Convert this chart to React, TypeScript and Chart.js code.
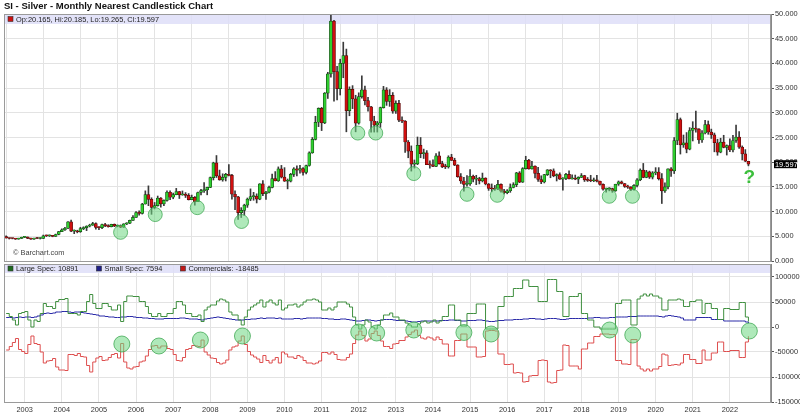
import React, { useEffect, useRef } from 'react';
import { Chart, registerables } from 'chart.js';

Chart.register(...registerables);

const FONT = '"Liberation Sans", Arial, Helvetica, sans-serif';

// Month index relative to Jan 2003 (0). First candle = Jul 2002.
const START_MONTH = -6;
const X_MIN = -6.7;
const X_MAX = 241.3;
const YEAR_LABELS = [2003, 2004, 2005, 2006, 2007, 2008, 2009, 2010, 2011, 2012, 2013, 2014, 2015, 2016, 2017, 2018, 2019, 2020, 2021, 2022];

const OPEN = [
  4.93, 4.66, 4.56, 4.55, 4.44, 4.56,
  4.79, 4.84, 4.58, 4.44, 4.57, 4.55, 4.57, 5.11, 5.10, 5.15, 5.00, 5.37,
  5.96, 6.30, 6.63, 7.92, 6.04, 6.10, 5.93, 6.55, 6.75, 7.05, 7.25, 7.55,
  6.82, 6.75, 7.39, 7.15, 6.95, 7.40, 7.05, 7.15, 6.83, 7.50, 7.65, 8.23,
  8.83, 9.82, 9.63, 11.53, 13.46, 12.47, 10.84, 11.20, 12.74, 11.55, 12.26, 13.92,
  12.90, 13.43, 14.07, 13.38, 13.41, 13.30, 12.43, 12.89, 12.02, 13.87, 14.24, 14.41,
  14.91, 16.87, 19.87, 17.22, 16.40, 16.93, 17.52, 17.32, 13.52, 12.97, 9.78, 10.24,
  11.30, 12.52, 13.03, 13.13, 12.52, 15.61, 13.62, 13.95, 14.90, 16.66, 16.24, 18.67,
  16.99, 16.14, 16.17, 17.54, 18.64, 18.38, 18.70, 17.95, 19.33, 21.91, 24.63, 28.08,
  30.91, 27.95, 33.99, 37.87, 48.58, 38.33, 34.87, 40.00, 41.59, 30.45, 34.76, 32.83,
  27.91, 33.28, 34.63, 32.48, 31.22, 28.34, 27.51, 27.97, 31.06, 34.65, 32.30, 33.53,
  30.35, 31.93, 28.50, 28.33, 24.09, 22.25, 19.60, 19.66, 23.42, 21.72, 21.89, 19.52,
  19.47, 19.15, 21.29, 19.72, 19.05, 19.04, 21.03, 20.37, 19.42, 17.07, 16.20, 15.50,
  15.63, 17.16, 16.57, 16.66, 16.21, 16.78, 15.58, 14.67, 14.62, 14.52, 15.52, 14.14,
  13.82, 14.22, 14.87, 15.45, 17.85, 15.98, 18.70, 20.40, 18.66, 19.20, 17.74, 16.49,
  15.99, 17.47, 18.46, 18.23, 17.23, 17.47, 16.56, 16.70, 17.54, 16.63, 16.71, 16.55,
  16.93, 17.30, 16.43, 16.32, 16.25, 16.43, 16.15, 15.50, 14.55, 14.62, 14.65, 14.20,
  15.54, 16.04, 15.68, 15.10, 14.94, 14.50, 15.32, 16.43, 18.38, 16.93, 18.05, 16.98,
  17.85, 18.02, 16.69, 14.19, 15.01, 18.64, 18.24, 24.39, 28.64, 23.52, 23.91, 22.63,
  26.41, 26.91, 26.69, 24.49, 25.91, 27.63, 26.11, 25.54, 23.94, 22.03, 24.07, 23.01,
  23.35, 22.47, 24.40, 25.10, 23.03, 21.69, 20.165,
];
const HIGH = [
  5.08, 4.70, 4.66, 4.56, 4.62, 4.83,
  4.98, 4.88, 4.65, 4.66, 4.78, 4.72, 5.25, 5.26, 5.27, 5.20, 5.45, 5.99,
  6.53, 6.83, 7.98, 8.29, 6.30, 6.23, 6.83, 6.93, 7.13, 7.45, 7.83, 7.75,
  6.90, 7.45, 7.65, 7.35, 7.45, 7.50, 7.30, 7.30, 7.55, 7.75, 8.30, 9.20,
  10.00, 10.18, 11.67, 14.20, 15.21, 12.80, 11.85, 13.15, 12.85, 12.40, 14.18, 14.18,
  13.75, 14.70, 14.10, 14.18, 13.85, 13.65, 13.35, 13.05, 13.95, 14.50, 15.85, 14.95,
  17.00, 20.00, 21.35, 18.40, 17.65, 17.75, 19.50, 17.55, 14.20, 13.10, 10.80, 11.50,
  12.75, 14.60, 13.90, 13.60, 15.65, 16.30, 14.10, 15.15, 17.60, 18.10, 19.05, 19.35,
  18.90, 16.60, 17.75, 18.90, 19.25, 19.35, 18.90, 19.40, 22.10, 25.00, 29.30, 31.00,
  31.10, 34.10, 38.20, 49.82, 48.70, 39.40, 40.85, 44.30, 42.90, 35.25, 35.50, 33.55,
  34.05, 37.50, 35.40, 33.15, 31.30, 29.30, 28.25, 31.15, 35.35, 35.10, 34.70, 34.10,
  32.40, 32.50, 29.20, 28.40, 24.40, 23.30, 20.45, 25.10, 25.00, 22.65, 22.35, 20.30,
  20.50, 21.75, 22.10, 20.20, 19.60, 21.30, 21.60, 20.80, 19.50, 17.70, 16.95, 17.30,
  18.50, 17.40, 17.35, 16.95, 17.80, 16.85, 15.70, 15.60, 15.30, 16.35, 15.60, 14.50,
  14.45, 15.60, 15.85, 17.95, 18.10, 18.90, 21.20, 20.60, 20.20, 19.25, 18.95, 17.25,
  17.55, 18.50, 18.50, 18.65, 17.65, 17.85, 16.90, 17.75, 18.25, 17.45, 17.40, 17.05,
  17.70, 17.35, 16.90, 17.35, 16.80, 17.35, 16.20, 15.60, 14.75, 14.85, 14.75, 15.55,
  16.20, 16.20, 15.70, 15.35, 15.05, 15.45, 16.70, 18.65, 19.75, 18.35, 18.20, 18.10,
  18.90, 18.90, 17.70, 15.80, 18.65, 18.90, 25.00, 29.91, 28.95, 25.50, 26.00, 27.00,
  28.20, 30.35, 26.80, 26.40, 28.50, 28.35, 26.70, 25.90, 24.65, 24.85, 25.45, 23.50,
  24.75, 25.45, 27.50, 26.20, 23.30, 22.55, 20.185,
];
const LOW = [
  4.60, 4.45, 4.48, 4.36, 4.40, 4.53,
  4.72, 4.53, 4.37, 4.38, 4.50, 4.45, 4.55, 4.95, 4.96, 4.90, 4.98, 5.30,
  5.93, 6.18, 6.55, 5.95, 5.53, 5.70, 5.80, 6.35, 6.15, 6.90, 7.20, 6.45,
  6.35, 6.55, 6.95, 6.85, 6.90, 6.95, 6.92, 6.75, 6.80, 7.35, 7.55, 8.20,
  8.80, 9.30, 9.50, 11.50, 11.20, 9.45, 10.55, 11.10, 10.90, 11.20, 12.10, 12.40,
  12.60, 13.40, 12.65, 13.30, 12.85, 12.35, 12.40, 11.30, 12.00, 13.40, 13.90, 13.40,
  14.85, 16.40, 16.90, 16.35, 16.15, 16.20, 17.20, 12.50, 10.40, 8.40, 8.80, 9.25,
  10.85, 12.20, 12.30, 11.75, 12.40, 13.25, 12.45, 13.80, 14.80, 16.20, 16.10, 16.80,
  16.10, 14.60, 16.00, 17.10, 17.20, 17.80, 17.35, 17.65, 19.20, 21.80, 24.50, 27.20,
  26.40, 27.80, 32.90, 37.20, 32.33, 32.60, 33.60, 37.10, 26.15, 29.40, 30.85, 26.15,
  27.70, 32.95, 31.60, 30.35, 26.10, 26.10, 26.10, 27.05, 30.95, 31.50, 31.30, 29.90,
  29.85, 28.20, 28.00, 22.00, 20.90, 18.20, 18.80, 19.50, 20.90, 20.75, 19.50, 18.80,
  19.10, 19.10, 19.60, 18.90, 18.70, 18.80, 20.35, 19.30, 16.95, 15.70, 14.15, 15.15,
  15.30, 16.00, 15.45, 15.60, 16.00, 15.40, 14.30, 14.00, 14.30, 14.45, 13.95, 13.60,
  13.60, 13.90, 14.80, 15.05, 15.85, 15.90, 18.60, 18.60, 18.60, 16.80, 16.10, 15.65,
  15.80, 17.30, 16.85, 17.05, 16.20, 16.50, 14.35, 16.45, 16.60, 16.55, 16.45, 15.65,
  16.90, 16.10, 16.10, 16.05, 16.05, 16.00, 15.35, 14.35, 13.95, 14.20, 13.90, 14.10,
  15.30, 15.60, 14.90, 14.70, 14.25, 14.35, 15.00, 16.25, 16.85, 16.85, 16.70, 16.60,
  17.45, 16.40, 11.64, 13.90, 14.60, 17.10, 17.70, 23.55, 21.65, 23.00, 21.90, 22.50,
  24.30, 26.10, 23.80, 24.00, 25.70, 25.65, 24.80, 22.10, 21.40, 21.90, 22.90, 21.45,
  22.15, 22.10, 24.00, 22.80, 20.45, 20.10, 19.265,
];
const CLOSE = [
  4.66, 4.56, 4.55, 4.44, 4.56, 4.79,
  4.84, 4.58, 4.44, 4.57, 4.55, 4.57, 5.11, 5.10, 5.15, 5.00, 5.37, 5.96,
  6.30, 6.63, 7.92, 6.04, 6.10, 5.93, 6.55, 6.75, 7.05, 7.25, 7.55, 6.82,
  6.75, 7.39, 7.15, 6.95, 7.40, 7.05, 7.15, 6.83, 7.50, 7.65, 8.23, 8.83,
  9.82, 9.63, 11.53, 13.46, 12.47, 10.84, 11.20, 12.74, 11.55, 12.26, 13.92, 12.90,
  13.43, 14.07, 13.38, 13.41, 13.30, 12.43, 12.89, 12.02, 13.87, 14.24, 14.41, 14.91,
  16.87, 19.87, 17.22, 16.40, 16.93, 17.52, 17.32, 13.52, 12.97, 9.78, 10.24, 11.30,
  12.52, 13.03, 13.13, 12.52, 15.61, 13.62, 13.95, 14.90, 16.66, 16.24, 18.67, 16.99,
  16.14, 16.17, 17.54, 18.64, 18.38, 18.70, 17.95, 19.33, 21.91, 24.63, 28.08, 30.91,
  27.95, 33.99, 37.87, 48.58, 38.33, 34.87, 40.00, 41.59, 30.45, 34.76, 32.83, 27.91,
  33.28, 34.63, 32.48, 31.22, 28.34, 27.51, 27.97, 31.06, 34.65, 32.30, 33.53, 30.35,
  31.93, 28.50, 28.33, 24.09, 22.25, 19.60, 19.66, 23.42, 21.72, 21.89, 19.52, 19.47,
  19.15, 21.29, 19.72, 19.05, 19.04, 21.03, 20.37, 19.42, 17.07, 16.20, 15.50, 15.63,
  17.16, 16.57, 16.66, 16.21, 16.78, 15.58, 14.67, 14.62, 14.52, 15.52, 14.14, 13.82,
  14.22, 14.87, 15.45, 17.85, 15.98, 18.70, 20.40, 18.66, 19.20, 17.74, 16.49, 15.99,
  17.47, 18.46, 18.23, 17.23, 17.47, 16.56, 16.70, 17.54, 16.63, 16.71, 16.55, 16.93,
  17.30, 16.43, 16.32, 16.25, 16.43, 16.15, 15.50, 14.55, 14.62, 14.65, 14.20, 15.54,
  16.04, 15.68, 15.10, 14.94, 14.50, 15.32, 16.43, 18.38, 16.93, 18.05, 16.98, 17.85,
  18.02, 16.69, 14.19, 15.01, 18.64, 18.24, 24.39, 28.64, 23.52, 23.91, 22.63, 26.41,
  26.91, 26.69, 24.49, 25.91, 27.63, 26.11, 25.54, 23.94, 22.03, 24.07, 23.01, 23.35,
  22.47, 24.40, 25.10, 23.03, 21.69, 20.20, 19.597,
];

// COT net positions, thousands of contracts
const LARGE_SPEC = [
  27, 21, 14, 4, 27, 29,
  31, 14, 0, 14, 11, 27, 47, 41, 41, 37, 51, 55,
  55, 57, 27, 27, 27, 24, 31, 31, 51, 65, 47, 37,
  37, 47, 47, 41, 34, 34, 44, 11, 51, 62, 62, 61,
  61, 51, 51, 41, 27, 21, 21, 27, 21, 21, 27, 27,
  37, 51, 51, 44, 27, 27, 21, 21, 24, 11, 34, 40,
  44, 44, 52, 56, 54, 50, 30, 24, 24, 14, 4, 20,
  34, 40, 44, 48, 54, 40, 50, 54, 48, 44, 54, 34,
  38, 44, 44, 46, 40, 44, 50, 54, 54, 56, 54, 50,
  34, 34, 38, 34, 40, 50, 50, 50, 46, 40, 20, 4,
  -4, 4, 14, 10, 0, -4, 4, 14, 24, 24, 28, 20,
  20, 14, 14, 8, 4, 0, 0, 6, 10, 12, 8, 10,
  14, 8, 12, 21, 21, 44, 44, 14, 14, 2, 2, 27,
  27, 27, 46, 46, 46, -4, -4, -4, -4, 41, 41, 61,
  61, 61, 77, 77, 77, 94, 94, 81, 81, 81, 51, 51,
  51, 95, 95, 95, 71, 71, 21, 21, 61, 61, 61, 67,
  27, 27, 14, 14, 0, 0, -4, -4, -4, -4, -4, 47,
  47, 54, 54, 54, 4, 4, 56, 62, 66, 62, 66, 62,
  62, 58, 34, 34, 54, 54, 54, 56, 54, 41, 41, 51,
  51, 54, 54, 27, 47, 47, 37, 37, 15, 15, 37, 37,
  35, 35, 35, 49, 49, 20, 10.891,
];
const SMALL_SPEC = [
  19, 19, 18, 19, 20, 19,
  20, 20, 19, 20, 22, 24, 27, 28, 27, 28, 30, 30,
  31, 31, 30, 29, 30, 30, 29, 28, 27, 26, 25, 24,
  22, 22, 21, 20, 20, 19, 19, 20, 20, 21, 21, 20,
  19, 19, 18, 18, 17, 17, 16, 16, 16, 17, 17, 17,
  17, 17, 18, 18, 17, 16, 16, 16, 15, 14, 16, 17,
  18, 19, 20, 19, 18, 17, 16, 15, 14, 14, 14, 15,
  15, 16, 16, 17, 18, 17, 18, 18, 18, 17, 18, 16,
  16, 16, 16, 17, 17, 16, 17, 18, 18, 18, 18, 18,
  17, 17, 16, 16, 15, 15, 16, 16, 15, 14, 13, 12,
  12, 13, 14, 14, 13, 12, 13, 14, 15, 15, 15, 14,
  13, 13, 13, 12, 11, 10, 10, 11, 12, 12, 12, 12,
  12, 12, 13, 13, 13, 14, 14, 13, 13, 12, 12, 13,
  13, 13, 14, 14, 13, 12, 11, 11, 12, 13, 13, 14,
  14, 14, 15, 15, 15, 16, 16, 17, 17, 16, 16, 15,
  16, 17, 17, 17, 16, 15, 15, 16, 17, 17, 17, 17,
  17, 17, 18, 18, 19, 19, 18, 18, 18, 19, 19, 20,
  20, 20, 20, 21, 21, 21, 22, 22, 22, 22, 22, 22,
  22, 21, 20, 22, 23, 22, 21, 20, 18, 14, 14, 14,
  14, 19, 19, 19, 19, 19, 15, 15, 15, 15, 12, 12,
  12, 12, 12, 12, 12, 10, 7.594,
];
const COMMERCIALS = [
  -46, -39, -31, -23, -45, -49,
  -53, -35, -18, -33, -35, -50, -72, -68, -67, -63, -80, -86,
  -86, -87, -55, -55, -57, -53, -59, -60, -77, -90, -70, -62,
  -59, -67, -66, -61, -55, -53, -62, -33, -70, -82, -84, -80,
  -79, -70, -68, -58, -45, -38, -37, -42, -38, -38, -43, -45,
  -55, -67, -68, -61, -45, -43, -37, -38, -39, -26, -50, -56,
  -62, -63, -71, -74, -72, -66, -46, -40, -38, -28, -18, -35,
  -49, -56, -60, -64, -71, -57, -67, -72, -66, -61, -72, -50,
  -54, -60, -60, -63, -57, -60, -67, -72, -72, -74, -72, -68,
  -51, -51, -54, -50, -55, -65, -66, -66, -61, -54, -33, -16,
  -8, -17, -28, -24, -13, -8, -17, -28, -39, -39, -43, -34,
  -33, -27, -27, -20, -15, -10, -6, -17, -22, -24, -20, -22,
  -26, -20, -25, -34, -34, -58, -58, -27, -27, -14, -14, -40,
  -40, -40, -60, -60, -59, -8, -7, -7, -8, -54, -54, -75,
  -75, -74, -92, -91, -92, -110, -109, -98, -97, -97, -67, -66,
  -67, -110, -112, -111, -87, -86, -36, -37, -78, -78, -78, -84,
  -44, -44, -32, -32, -19, -19, -14, -14, -14, -15, -15, -67,
  -67, -74, -74, -75, -25, -25, -78, -84, -88, -84, -88, -84,
  -84, -79, -54, -56, -77, -76, -75, -76, -72, -55, -55, -65,
  -65, -73, -73, -46, -66, -66, -52, -52, -30, -30, -49, -49,
  -47, -47, -47, -61, -61, -30, -18.485,
];

// Highlight circles (month index, value)
const PRICE_MARK_X = [31.0, 42.2, 55.8, 70.1, 107.7, 113.5, 125.8, 143.0, 152.8, 189.0, 196.5];
const PRICE_MARK_Y = [5.8, 9.4, 10.8, 8.0, 25.9, 25.9, 17.7, 13.5, 13.3, 13.1, 13.1];
const COT_MARK_X = [31.4, 43.4, 56.8, 70.4, 108.0, 113.8, 125.8, 142.0, 150.8, 189.1, 196.6, 234.3];
const COT_MARK_Y = [-34, -38, -26, -18, -10, -12, -6, -11, -14, -6, -16, -8];
const QUESTION_MARK = { x: 234.3, y: 16.8 };

const LAST_OHLC_TEXT = 'Op:20.165, Hi:20.185, Lo:19.265, Cl:19.597';
const TITLE = 'SI - Silver - Monthly Nearest Candlestick Chart';
const COT_LEGEND = [
  { label: 'Large Spec: 10891', color: '#1f6b1f' },
  { label: 'Small Spec: 7594', color: '#1e1e88' },
  { label: 'Commercials: -18485', color: '#c21818' },
];

const MONTHS = OPEN.map((_, i) => START_MONTH + i);
const YEAR_TICKS = YEAR_LABELS.map((y) => (y - 2003) * 12);

const GRID = '#e3e3e3';
const BAND = 'rgba(222,222,248,0.85)';
const SMALL = 7.4;
const AXIS_W = 29;

function drawBox(ctx: CanvasRenderingContext2D, a: any) {
  ctx.save();
  ctx.strokeStyle = '#9a9a9a';
  ctx.lineWidth = 1;
  ctx.strokeRect(a.left + 0.5, a.top + 0.5, a.right - a.left - 1, a.bottom - a.top);
  ctx.restore();
}

const topDecor = {
  id: 'topDecor',
  beforeDatasetsDraw(chart: any) {
    const { ctx, chartArea: a } = chart;
    ctx.save();
    ctx.fillStyle = BAND;
    ctx.fillRect(a.left, a.top, a.right - a.left, 10);
    ctx.restore();
  },
  afterDatasetsDraw(chart: any) {
    const { ctx, chartArea: a } = chart;
    ctx.save();
    ctx.fillStyle = '#cc1111';
    ctx.fillRect(8, a.top + 2.5, 5, 5);
    ctx.strokeStyle = '#333';
    ctx.lineWidth = 0.6;
    ctx.strokeRect(8, a.top + 2.5, 5, 5);
    ctx.fillStyle = '#222';
    ctx.font = `${SMALL}px ${FONT}`;
    ctx.textBaseline = 'middle';
    ctx.textAlign = 'left';
    ctx.fillText(LAST_OHLC_TEXT, 16, a.top + 5.5);
    ctx.fillStyle = '#444';
    ctx.fillText('\u00A9 Barchart.com', 13, a.bottom - 8);
    ctx.restore();
    drawBox(ctx, a);
  },
  afterDraw(chart: any) {
    const { ctx, scales, chartArea: a } = chart;
    ctx.save();
    ctx.fillStyle = '#111';
    ctx.font = `bold 9.5px ${FONT}`;
    ctx.textBaseline = 'middle';
    ctx.textAlign = 'left';
    ctx.fillText(TITLE, 4, 6);
    const last = CLOSE[CLOSE.length - 1];
    const py = scales.y.getPixelForValue(last);
    ctx.fillStyle = '#000';
    ctx.fillRect(a.right + 3, py - 4, 23, 8);
    ctx.fillStyle = '#fff';
    ctx.font = `${SMALL}px ${FONT}`;
    ctx.fillText(last.toFixed(3), a.right + 4, py + 0.5);
    ctx.fillStyle = '#3cbf3c';
    ctx.font = `bold 19px ${FONT}`;
    ctx.textAlign = 'center';
    ctx.fillText('?', scales.x.getPixelForValue(QUESTION_MARK.x), scales.y.getPixelForValue(QUESTION_MARK.y));
    ctx.restore();
  },
};

const bottomDecor = {
  id: 'bottomDecor',
  beforeDatasetsDraw(chart: any) {
    const { ctx, chartArea: a } = chart;
    ctx.save();
    ctx.fillStyle = BAND;
    ctx.fillRect(a.left, a.top, a.right - a.left, 9);
    ctx.restore();
  },
  afterDatasetsDraw(chart: any) {
    const { ctx, chartArea: a } = chart;
    ctx.save();
    ctx.font = `${SMALL}px ${FONT}`;
    ctx.textBaseline = 'middle';
    ctx.textAlign = 'left';
    let x = 8;
    for (const item of COT_LEGEND) {
      ctx.fillStyle = item.color;
      ctx.fillRect(x, a.top + 2, 5, 5);
      ctx.strokeStyle = '#333';
      ctx.lineWidth = 0.6;
      ctx.strokeRect(x, a.top + 2, 5, 5);
      ctx.fillStyle = '#222';
      ctx.fillText(item.label, x + 8, a.top + 5);
      x += 8 + ctx.measureText(item.label).width + 18;
    }
    ctx.restore();
    drawBox(ctx, a);
  },
};

const zeroPadV = (s: any) => {
  s.width = AXIS_W;
  s.paddingTop = 0;
  s.paddingBottom = 0;
};

export default function App() {
  const topRef = useRef<HTMLCanvasElement>(null);
  const botRef = useRef<HTMLCanvasElement>(null);

  useEffect(() => {
    const up = OPEN.map((o, i) => CLOSE[i] >= o);
    const xCommon = {
      type: 'linear' as const,
      min: X_MIN,
      max: X_MAX,
      offset: false,
      afterBuildTicks: (s: any) => {
        s.ticks = YEAR_TICKS.map((v) => ({ value: v }));
      },
    };
    const yGrid = { color: GRID, tickColor: '#555', tickLength: 3 };

    const top = new Chart(topRef.current!, {
      type: 'bar',
      data: {
        datasets: [
          {
            type: 'scatter',
            data: PRICE_MARK_X.map((x, i) => ({ x, y: PRICE_MARK_Y[i] })),
            pointRadius: 7,
            pointHoverRadius: 7,
            backgroundColor: 'rgba(110,215,130,0.55)',
            borderColor: 'rgba(60,165,80,0.75)',
            borderWidth: 1,
            order: 1,
          } as any,
          {
            type: 'bar',
            data: MONTHS.map((m, i) => ({ x: m, y: [OPEN[i], CLOSE[i]] })),
            backgroundColor: up.map((u) => (u ? '#2fcf2f' : '#d01010')),
            borderColor: up.map((u) => (u ? '#144d14' : '#5a0808')),
            borderWidth: 0.7,
            borderSkipped: false,
            barThickness: 3,
            minBarLength: 1,
            grouped: false,
            order: 2,
          } as any,
          {
            type: 'bar',
            data: MONTHS.map((m, i) => ({ x: m, y: [LOW[i], HIGH[i]] })),
            backgroundColor: '#3a3a3a',
            barThickness: 1,
            grouped: false,
            order: 3,
          } as any,
        ],
      },
      options: {
        responsive: false,
        animation: false,
        devicePixelRatio: 1,
        events: [],
        layout: { autoPadding: false, padding: { top: 14, left: 4, right: 0, bottom: 5 } },
        plugins: { legend: { display: false }, tooltip: { enabled: false } },
        scales: {
          x: {
            ...xCommon,
            ticks: { display: false },
            grid: { color: GRID, drawTicks: false },
            border: { display: false },
            afterFit: (s: any) => {
              s.height = 0;
              s.paddingLeft = 0;
              s.paddingRight = 0;
            },
          },
          y: {
            position: 'right',
            min: 0,
            max: 50,
            ticks: {
              stepSize: 5,
              padding: 1,
              color: '#333',
              font: { family: FONT, size: SMALL },
              callback: (v: any) => Number(v).toFixed(3),
            },
            grid: yGrid,
            border: { display: true, color: '#888' },
            afterFit: zeroPadV,
          },
        },
      } as any,
      plugins: [topDecor],
    });

    const line = (data: number[], color: string) => ({
      type: 'line',
      data: MONTHS.map((m, i) => ({ x: m, y: data[i] })),
      borderColor: color,
      borderWidth: 1,
      pointRadius: 0,
      stepped: 'before',
      fill: false,
      order: 2,
    });

    const bottom = new Chart(botRef.current!, {
      type: 'line',
      data: {
        datasets: [
          {
            type: 'scatter',
            data: COT_MARK_X.map((x, i) => ({ x, y: COT_MARK_Y[i] })),
            pointRadius: 8,
            pointHoverRadius: 8,
            backgroundColor: 'rgba(110,215,130,0.55)',
            borderColor: 'rgba(60,165,80,0.75)',
            borderWidth: 1,
            order: 1,
          } as any,
          line(LARGE_SPEC, '#3f8f3f') as any,
          line(SMALL_SPEC, '#2a2aa8') as any,
          line(COMMERCIALS, '#de4e4e') as any,
        ],
      },
      options: {
        responsive: false,
        animation: false,
        devicePixelRatio: 1,
        events: [],
        layout: { autoPadding: false, padding: { top: 2, left: 4, right: 0, bottom: 0 } },
        plugins: { legend: { display: false }, tooltip: { enabled: false } },
        scales: {
          x: {
            ...xCommon,
            ticks: {
              display: true,
              padding: 4,
              color: '#333',
              maxRotation: 0,
              autoSkip: false,
              font: { family: FONT, size: SMALL },
              callback: (v: any) => String(2003 + Number(v) / 12),
            },
            grid: { color: GRID, drawTicks: false },
            border: { display: false },
            afterFit: (s: any) => {
              s.height = 17;
              s.paddingLeft = 0;
              s.paddingRight = 0;
            },
          },
          y: {
            position: 'right',
            min: -150,
            max: 126,
            afterBuildTicks: (s: any) => {
              s.ticks = [100, 50, 0, -50, -100, -150].map((v) => ({ value: v }));
            },
            ticks: {
              padding: 1,
              color: '#333',
              font: { family: FONT, size: SMALL },
              callback: (v: any) => String(Number(v) * 1000),
            },
            grid: yGrid,
            border: { display: true, color: '#888' },
            afterFit: zeroPadV,
          },
        },
      } as any,
      plugins: [bottomDecor],
    });

    return () => {
      top.destroy();
      bottom.destroy();
    };
  }, []);

  return (
    <div style={{ position: 'absolute', left: 0, top: 0, width: 800, height: 419, background: '#fff', overflow: 'hidden' }}>
      <canvas ref={topRef} width={800} height={266} style={{ position: 'absolute', left: 0, top: 0 }} />
      <canvas ref={botRef} width={800} height={157} style={{ position: 'absolute', left: 0, top: 262 }} />
    </div>
  );
}
